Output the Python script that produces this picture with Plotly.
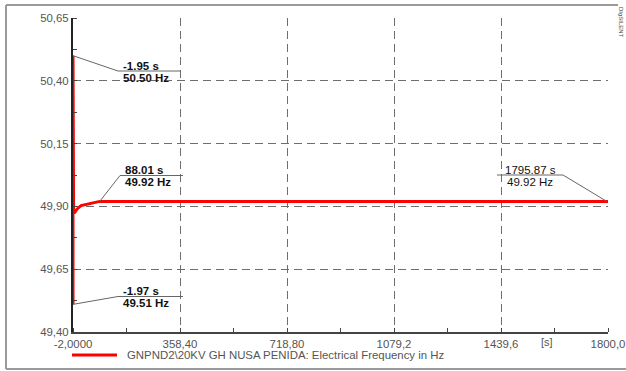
import plotly.graph_objects as go

# ---- data ----
time_s = [-2.0, -1.97, -1.95, 0.0, 4.0, 12.0, 25.0, 45.0, 65.0, 88.01, 400.0, 1000.0, 1795.87, 1800.0]
freq_hz = [49.92, 49.51, 50.50, 49.875, 49.876, 49.89, 49.903, 49.908, 49.913, 49.92, 49.92, 49.92, 49.92, 49.92]

x_ticks = [-2.0, 358.4, 718.8, 1079.2, 1439.6, 1800.0]
x_labels = ["-2,0000", "358,40", "718,80", "1079,2", "1439,6", "1800,0"]
y_ticks = [49.40, 49.65, 49.90, 50.15, 50.40, 50.65]
y_labels = ["49,40", "49,65", "49,90", "50,15", "50,40", "50,65"]

markers = [  # (time, freq, label time, label freq)
    (-1.95, 50.50, "-1.95 s", "50.50 Hz"),
    (88.01, 49.92, "88.01 s", "49.92 Hz"),
    (-1.97, 49.51, "-1.97 s", "49.51 Hz"),
    (1795.87, 49.92, "1795.87 s", "49.92 Hz"),
]
legend_name = "GNPND2\\20KV GH NUSA PENIDA: Electrical Frequency in Hz"

# ---- layout geometry (pixels) ----
W, H = 626, 371
L, R, T, B = 73, 608, 18, 332
X0, X1 = -2.0, 1800.0
Y0, Y1 = 49.40, 50.65

def px2x(px):
    return X0 + (px - L) / (R - L) * (X1 - X0)

def py2y(py):
    return Y1 - (py - T) / (B - T) * (Y1 - Y0)

def ppx(px):
    return (px - L) / (R - L)

def ppy(py):
    return (B - py) / (B - T)

FONT = "Liberation Sans, Arial, sans-serif"

fig = go.Figure()
fig.add_trace(go.Scatter(x=time_s, y=freq_hz, mode="lines",
                         line=dict(color="#ff0000", width=3), showlegend=False,
                         hoverinfo="skip"))

shapes = []
annotations = []

# marker label geometry: (hline y px, hline x0 px, hline x1 px, bend x px, bold)
geom = [
    (71, 118, 181, 118, True),
    (175.5, 120, 183, 120, True),
    (296.5, 118, 183, 118, True),
    (175, 497, 563, 563, False),
]
for (t, f, lt, lf), (hy, hx0, hx1, bx, bold) in zip(markers, geom):
    shapes.append(dict(type="line", xref="x", yref="y", x0=t, y0=f,
                       x1=px2x(bx), y1=py2y(hy), line=dict(color="#666", width=1)))
    shapes.append(dict(type="line", xref="x", yref="y", x0=px2x(hx0), y0=py2y(hy),
                       x1=px2x(hx1), y1=py2y(hy), line=dict(color="#666", width=1)))
    cx = (hx0 + hx1) / 2 if not bold else hx0 + 4
    anchor = "center" if not bold else "left"
    for txt, dy, ya in ((lt, 1.5, "bottom"), (lf, -0.5, "top")):
        annotations.append(dict(
            x=px2x(cx), y=py2y(hy + dy), xref="x", yref="y", showarrow=False,
            text=("<b>%s</b>" % txt) if bold else txt, xanchor=anchor, yanchor=ya,
            font=dict(family=FONT, size=11.5, color="#111"),
            borderpad=0))

# [s] unit label
annotations.append(dict(x=px2x(547), y=ppy(342), xref="x", yref="paper",
                        text="[s]", showarrow=False, xanchor="center", yanchor="middle",
                        font=dict(family=FONT, size=11, color="#555")))

# legend
shapes.append(dict(type="line", xref="paper", yref="paper", x0=ppx(72), x1=ppx(117),
                   y0=ppy(355), y1=ppy(355), line=dict(color="#ff0000", width=3)))
annotations.append(dict(x=ppx(125), y=ppy(355), xref="paper", yref="paper",
                        text=legend_name, showarrow=False, xanchor="left", yanchor="middle",
                        font=dict(family=FONT, size=11.4, color="#555")))

# logo text
annotations.append(dict(x=ppx(621), y=ppy(22), xref="paper", yref="paper",
                        text="DIgSILENT", showarrow=False, textangle=90,
                        xanchor="center", yanchor="middle",
                        font=dict(family=FONT, size=6, color="#444")))

# outer frame
frame_col = "#9a9a9a"
shapes += [
    dict(type="line", xref="paper", yref="paper", x0=ppx(6), x1=ppx(618), y0=ppy(5), y1=ppy(5),
         line=dict(color=frame_col, width=2)),
    dict(type="line", xref="paper", yref="paper", x0=ppx(6), x1=ppx(6), y0=ppy(5), y1=ppy(369),
         line=dict(color=frame_col, width=2)),
    dict(type="line", xref="paper", yref="paper", x0=ppx(6), x1=ppx(630), y0=ppy(369), y1=ppy(369),
         line=dict(color=frame_col, width=2)),
]

grid = dict(showgrid=True, gridcolor="#6e6e6e", gridwidth=1, griddash="8px,5px")

fig.update_layout(
    width=W, height=H, margin=dict(l=L, r=W - R, t=T, b=H - B, autoexpand=False),
    paper_bgcolor="white", plot_bgcolor="white", showlegend=False,
    shapes=shapes, annotations=annotations,
    font=dict(family=FONT, size=11, color="#555"),
    xaxis=dict(range=[X0, X1], tickvals=x_ticks, ticktext=x_labels, ticks="",
               showline=True, linecolor="#444", linewidth=2, zeroline=False,
               automargin=False,
               tickfont=dict(family=FONT, size=11.4, color="#555"),
               minor=dict(ticks="inside", ticklen=4, tickcolor="#444", tick0=X0,
                          dtick=180.2, showgrid=False),
               **grid),
    yaxis=dict(range=[Y0, Y1], tickvals=y_ticks, ticktext=y_labels, ticks="",
               showline=True, linecolor="#222", linewidth=2, zeroline=False,
               automargin=False,
               tickfont=dict(family=FONT, size=11.4, color="#555"),
               minor=dict(ticks="inside", ticklen=4, tickcolor="#444", tick0=Y0,
                          dtick=0.125, showgrid=False),
               **grid),
)

fig.write_html("out.html")
